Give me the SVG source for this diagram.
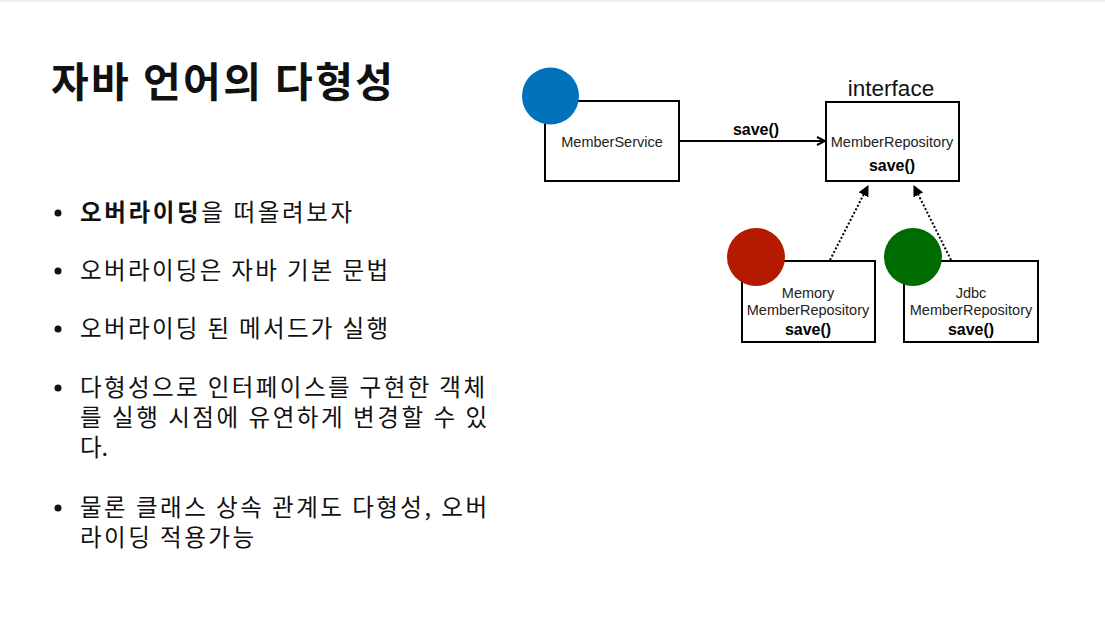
<svg xmlns="http://www.w3.org/2000/svg" width="1105" height="624" viewBox="0 0 1105 624">
<style>
.ko{font-family:"Noto Sans CJK KR","Noto Sans",sans-serif;fill:#111}
.title{font-size:41px;font-weight:bold}
.bul{font-size:23.5px}
.box{fill:#fff;stroke:#000;stroke-width:2}
.lbl{font-family:"Liberation Sans",Arial,sans-serif;font-size:14.5px;fill:#222;text-anchor:middle}
.m{font-family:"Liberation Sans",Arial,sans-serif;font-size:16px;font-weight:bold;fill:#000;text-anchor:middle}
.conn{fill:none;stroke:#000;stroke-width:2}
.dot{fill:none;stroke:#000;stroke-width:2;stroke-dasharray:2 2}
</style>
<defs>
<marker id="open" viewBox="0 0 10 10" refX="9" refY="5" markerWidth="10" markerHeight="10" markerUnits="userSpaceOnUse" orient="auto">
<path d="M1,1 L9,5 L1,9" fill="none" stroke="#000" stroke-width="2"/>
</marker>
<marker id="tri" viewBox="0 0 10 10" refX="9" refY="5" markerWidth="11" markerHeight="11" markerUnits="userSpaceOnUse" orient="auto">
<path d="M0,0 L10,5 L0,10 Z" fill="#000"/>
</marker>
</defs>
<rect x="0" y="0" width="1105" height="624" fill="#fff"/>
<rect x="0" y="0" width="1105" height="1.5" fill="#ececec"/>
<text class="ko title" x="51" y="97" textLength="342" lengthAdjust="spacing">자바 언어의 다형성</text>
<g id="bullets">
<circle cx="58" cy="213" r="3.5" fill="#111"/>
<circle cx="58" cy="271" r="3.5" fill="#111"/>
<circle cx="58" cy="329" r="3.5" fill="#111"/>
<circle cx="58" cy="388" r="3.5" fill="#111"/>
<circle cx="58" cy="508" r="3.5" fill="#111"/>
<text class="ko bul" x="80" y="221" textLength="272" lengthAdjust="spacing"><tspan font-weight="bold">오버라이딩</tspan>을 떠올려보자</text>
<text class="ko bul" x="80" y="279" textLength="308" lengthAdjust="spacing">오버라이딩은 자바 기본 문법</text>
<text class="ko bul" x="80" y="337" textLength="308" lengthAdjust="spacing">오버라이딩 된 메서드가 실행</text>
<text class="ko bul" x="80" y="396" textLength="405" lengthAdjust="spacing">다형성으로 인터페이스를 구현한 객체</text>
<text class="ko bul" x="80" y="426" textLength="407" lengthAdjust="spacing">를 실행 시점에 유연하게 변경할 수 있</text>
<text class="ko bul" x="80" y="456">다.</text>
<text class="ko bul" x="80" y="516" textLength="407" lengthAdjust="spacing">물론 클래스 상속 관계도 다형성, 오버</text>
<text class="ko bul" x="80" y="546" textLength="174" lengthAdjust="spacing">라이딩 적용가능</text>
</g>
<g id="connectors">
<line class="conn" x1="679" y1="141" x2="825" y2="141" marker-end="url(#open)"/>
<text class="m" x="756" y="135">save()</text>
<line class="dot" x1="830" y1="260" x2="868" y2="186" marker-end="url(#tri)"/>
<line class="dot" x1="951" y1="260" x2="914" y2="186" marker-end="url(#tri)"/>
</g>
<g id="memberService">
<rect class="box" x="545" y="101" width="134" height="80"/>
<circle cx="550.5" cy="96" r="28.5" fill="#0071bb"/>
<text class="lbl" x="612" y="147">MemberService</text>
</g>
<g id="memberRepository">
<text x="891" y="96" font-family="Liberation Sans, Arial, sans-serif" font-size="22.5" fill="#111" text-anchor="middle">interface</text>
<rect class="box" x="826" y="102" width="133" height="79"/>
<text class="lbl" x="892" y="147">MemberRepository</text>
<text class="m" x="892" y="171">save()</text>
</g>
<g id="memoryMemberRepository">
<rect class="box" x="742" y="261" width="133" height="81"/>
<circle cx="756" cy="257" r="29" fill="#b51a00"/>
<text class="lbl" x="808" y="298">Memory</text>
<text class="lbl" x="808" y="315">MemberRepository</text>
<text class="m" x="808" y="335">save()</text>
</g>
<g id="jdbcMemberRepository">
<rect class="box" x="904" y="261" width="134" height="81"/>
<circle cx="913" cy="257" r="29" fill="#006b00"/>
<text class="lbl" x="971" y="298">Jdbc</text>
<text class="lbl" x="971" y="315">MemberRepository</text>
<text class="m" x="971" y="335">save()</text>
</g>
</svg>
